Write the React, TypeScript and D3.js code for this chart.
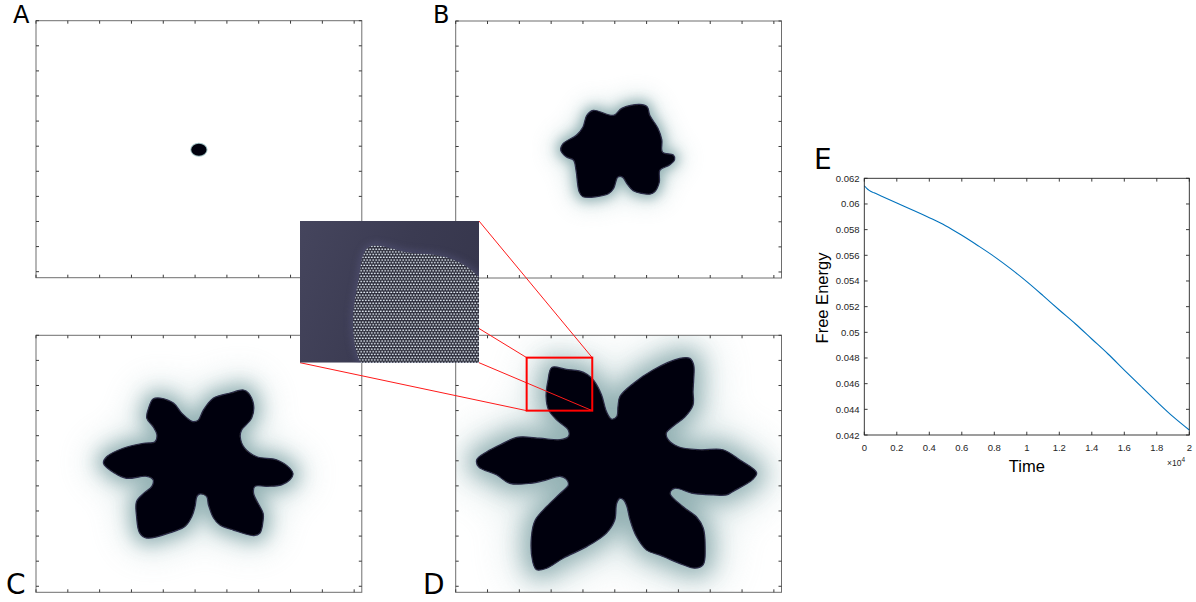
import React from "react";
import * as d3 from "d3";

// ---------- data ----------
const gridTicks = [0, 50, 100, 150, 200, 250, 300, 350, 400, 450, 500];
const gridDomain: [number, number] = [0, 512];

const seedA = { cx: 256, cy: 257, r: 12 };

const shapeB: [number, number][] = [
  [216, 178], [248, 188], [261, 174], [289, 166], [301, 171], [305, 188], [318, 214],
  [324, 237], [325, 261], [342, 267], [344, 276], [336, 287], [321, 297], [320, 321],
  [313, 340], [305, 345], [279, 338], [269, 324], [262, 311], [255, 311], [248, 334],
  [240, 344], [200, 350], [194, 340], [189, 297], [185, 277], [174, 271], [165, 257],
  [169, 244], [190, 227], [200, 211], [206, 188],
];

const shapeC: [number, number][] = [
  [184, 127], [195, 125], [216, 135], [229, 155], [242, 169], [247, 172], [255, 169],
  [263, 149], [279, 125], [305, 115], [326, 109], [334, 115], [342, 139], [339, 165],
  [323, 189], [321, 202], [328, 225], [347, 242], [378, 248], [399, 265], [404, 276],
  [399, 288], [386, 298], [363, 301], [344, 301], [342, 315], [357, 355], [357, 368],
  [352, 394], [342, 399], [310, 388], [289, 378], [279, 364], [271, 338], [268, 321],
  [258, 316], [253, 321], [250, 341], [245, 361], [234, 381], [216, 391], [174, 404],
  [163, 394], [158, 361], [158, 331], [169, 315], [182, 301], [184, 288], [174, 281],
  [142, 285], [124, 275], [106, 255], [111, 242], [137, 225], [169, 215], [187, 212],
  [190, 198], [184, 182], [174, 165], [177, 145],
];

const shapeD: [number, number][] = [
  [151, 64], [174, 68], [194, 71], [207, 78], [217, 90], [229, 118], [237, 152], [245, 167],
  [253, 162], [255, 142], [258, 122], [279, 96], [310, 69], [352, 46], [368, 46],
  [374, 59], [374, 89], [373, 112], [373, 139], [360, 163], [342, 181], [331, 195],
  [334, 208], [350, 222], [384, 228], [420, 228], [446, 248], [473, 274], [467, 287],
  [436, 311], [426, 318], [405, 318], [373, 315], [344, 305], [337, 315], [357, 341],
  [378, 361], [389, 384], [392, 421], [389, 457], [376, 464], [357, 457], [321, 438],
  [300, 428], [284, 401], [274, 368], [269, 341], [264, 328], [258, 325], [253, 335],
  [250, 368], [237, 394], [206, 421], [169, 444], [143, 464], [127, 467], [121, 451],
  [119, 401], [125, 368], [143, 341], [164, 315], [177, 298], [174, 287], [164, 281],
  [143, 288], [117, 295], [85, 295], [64, 278], [36, 262], [33, 248], [49, 232],
  [70, 218], [98, 203], [132, 205], [164, 208], [177, 202], [177, 189], [159, 169],
  [146, 149], [142, 122], [145, 90],
];

const zoomBox = { x0: 111.5, x1: 214.6, y0: 44.5, y1: 150.1 };

const timeValues = [0, 150, 300, 600, 1000, 2000, 3000, 4000, 5000, 6000, 7000, 8000, 9000,
  10000, 11000, 12000, 13000, 14000, 15000, 16000, 17000, 18000, 19000, 20000];
const energyValues = [0.06142, 0.06122, 0.06106, 0.06087, 0.06064, 0.06007, 0.05951, 0.05893,
  0.05831, 0.05756, 0.05675, 0.05590, 0.05496, 0.05395, 0.05286, 0.05174, 0.05065, 0.04948,
  0.04831, 0.04706, 0.04582, 0.04460, 0.04343, 0.04239];
const timeTicks = [0, 2000, 4000, 6000, 8000, 10000, 12000, 14000, 16000, 18000, 20000];
const energyTicks = [0.042, 0.044, 0.046, 0.048, 0.05, 0.052, 0.054, 0.056, 0.058, 0.06, 0.062];

// ---------- layout ----------
const PW = 325.8;
const PH = 257;
const panels = [
  { id: "A", x: 36, y: 20.7, shape: null as [number, number][] | null, halo: 2, blur: 1.5 },
  { id: "B", x: 455.7, y: 21, shape: shapeB, halo: 8, blur: 6 },
  { id: "C", x: 36, y: 335.3, shape: shapeC, halo: 12, blur: 9 },
  { id: "D", x: 455.7, y: 335.3, shape: shapeD, halo: 16, blur: 11 },
];
const inset = { x: 300, y: 221, w: 179, h: 141.7 };

const xP = d3.scaleLinear().domain(gridDomain).range([0, PW]);
const yP = d3.scaleLinear().domain(gridDomain).range([0, PH]);
const shapeLine = d3
  .line<[number, number]>()
  .x((d) => xP(d[0]))
  .y((d) => yP(d[1]))
  .curve(d3.curveCatmullRomClosed.alpha(0.5));

const xI = d3.scaleLinear().domain([zoomBox.x0, zoomBox.x1]).range([0, inset.w]);
const yI = d3.scaleLinear().domain([zoomBox.y0, zoomBox.y1]).range([0, inset.h]);
const insetLine = d3
  .line<[number, number]>()
  .x((d) => xI(d[0]))
  .y((d) => yI(d[1]))
  .curve(d3.curveCatmullRomClosed.alpha(0.5));

const xE = d3.scaleLinear().domain([0, 20000]).range([864.3, 1189.3]);
const yE = d3.scaleLinear().domain([0.042, 0.062]).range([435, 178.3]);
const energyLine = d3
  .line<number>()
  .x((_, i) => xE(timeValues[i]))
  .y((d) => yE(d))
  .curve(d3.curveMonotoneX);

const labelFont = "DejaVu Sans, sans-serif";
const axisFont = "Liberation Sans, Arial, sans-serif";

function Panel({ p }: { p: (typeof panels)[number] }) {
  const clipId = `clip-${p.id}`;
  return (
    <g transform={`translate(${p.x},${p.y})`}>
      <defs>
        <clipPath id={clipId}>
          <rect x={0} y={0} width={PW} height={PH} />
        </clipPath>
      </defs>
      <rect x={0} y={0} width={PW} height={PH} fill="#ffffff" />
      <g clipPath={`url(#${clipId})`}>
        {p.shape ? (
          <>
            <path
              d={shapeLine(p.shape) || ""}
              fill="#b9d0d1"
              stroke="#b9d0d1"
              strokeWidth={p.halo * 2.6}
              strokeLinejoin="round"
              opacity={0.45}
              filter={`url(#blurWide-${p.id})`}
            />
            <path
              d={shapeLine(p.shape) || ""}
              fill="#86a7aa"
              stroke="#86a7aa"
              strokeWidth={p.halo}
              strokeLinejoin="round"
              opacity={0.85}
              filter={`url(#blur-${p.id})`}
            />
            <path
              d={shapeLine(p.shape) || ""}
              fill="#05050c"
              stroke="#2c2c48"
              strokeWidth={1.2}
              filter="url(#edgeBlur)"
            />
          </>
        ) : (
          <>
            <ellipse
              cx={xP(seedA.cx)}
              cy={yP(seedA.cy)}
              rx={xP(seedA.r) - xP(0) + 1}
              ry={yP(seedA.r) - yP(0) + 1}
              fill="#9fc0c4"
              filter="url(#edgeBlur)"
            />
            <ellipse
              cx={xP(seedA.cx)}
              cy={yP(seedA.cy)}
              rx={xP(seedA.r) - xP(0)}
              ry={yP(seedA.r) - yP(0)}
              fill="#05050c"
              filter="url(#edgeBlur)"
            />
          </>
        )}
      </g>
      <rect x={0} y={0} width={PW} height={PH} fill="none" stroke="#6e6e6e" strokeWidth={1} />
      {gridTicks.map((t) => (
        <g key={`xt-${t}`} stroke="#3a3a3a" strokeWidth={1}>
          <line x1={xP(t)} x2={xP(t)} y1={0} y2={3} />
          <line x1={xP(t)} x2={xP(t)} y1={PH} y2={PH - 3} />
        </g>
      ))}
      {gridTicks.map((t) => (
        <g key={`yt-${t}`} stroke="#3a3a3a" strokeWidth={1}>
          <line x1={0} x2={3} y1={yP(t)} y2={yP(t)} />
          <line x1={PW} x2={PW - 3} y1={yP(t)} y2={yP(t)} />
        </g>
      ))}
    </g>
  );
}

export default function App() {
  const D = panels[3];
  const boxL = D.x + xP(zoomBox.x0);
  const boxR = D.x + xP(zoomBox.x1);
  const boxT = D.y + yP(zoomBox.y0);
  const boxB = D.y + yP(zoomBox.y1);

  return (
    <div style={{ position: "absolute", left: 0, top: 0 }}>
      <svg width={1196} height={602} viewBox="0 0 1196 602" style={{ display: "block", background: "#fff" }}>
        <defs>
          {panels.map((p) => (
            <React.Fragment key={p.id}>
              <filter id={`blur-${p.id}`} x="-50%" y="-50%" width="200%" height="200%">
                <feGaussianBlur stdDeviation={p.blur} />
              </filter>
              <filter id={`blurWide-${p.id}`} x="-50%" y="-50%" width="200%" height="200%">
                <feGaussianBlur stdDeviation={p.blur * 1.8} />
              </filter>
            </React.Fragment>
          ))}
          <filter id="edgeBlur" x="-20%" y="-20%" width="140%" height="140%">
            <feGaussianBlur stdDeviation={0.6} />
          </filter>
          <filter id="insetGlow" x="-50%" y="-50%" width="200%" height="200%">
            <feGaussianBlur stdDeviation={3} />
          </filter>
          <linearGradient id="insetBg" x1="0" y1="0" x2="1" y2="0.3">
            <stop offset="0" stopColor="#45455d" />
            <stop offset="0.6" stopColor="#3b3b52" />
            <stop offset="1" stopColor="#37374d" />
          </linearGradient>
          <pattern id="hexDots" patternUnits="userSpaceOnUse" width={3} height={5.4}>
            <rect x={0} y={0} width={3} height={5.4} fill="#20202e" />
            <rect x={0.3} y={0.5} width={1.9} height={1.4} fill="#e2eaf3" />
            <rect x={1.8} y={3.2} width={1.9} height={1.4} fill="#e2eaf3" />
            <rect x={-1.2} y={3.2} width={1.9} height={1.4} fill="#e2eaf3" />
          </pattern>
          <clipPath id="insetClip">
            <rect x={0} y={0} width={inset.w} height={inset.h} />
          </clipPath>
        </defs>

        {panels.map((p) => (
          <Panel key={p.id} p={p} />
        ))}

        {/* zoom connector lines */}
        <g stroke="#ff1a1a" strokeWidth={1}>
          <line x1={inset.x + inset.w} y1={inset.y} x2={boxR} y2={boxT} />
          <line x1={inset.x + inset.w} y1={inset.y + 107.5} x2={boxL} y2={boxT} />
          <line x1={inset.x + inset.w} y1={inset.y + inset.h} x2={boxR} y2={boxB} />
          <line x1={inset.x} y1={inset.y + inset.h} x2={boxL} y2={boxB} />
        </g>

        {/* inset */}
        <g transform={`translate(${inset.x},${inset.y})`}>
          <g clipPath="url(#insetClip)">
            <rect x={0} y={0} width={inset.w} height={inset.h} fill="url(#insetBg)" />
            <path
              d={insetLine(shapeD) || ""}
              fill="#55557a"
              stroke="#55557a"
              strokeWidth={6}
              opacity={0.5}
              filter="url(#insetGlow)"
            />
            <path d={insetLine(shapeD) || ""} fill="url(#hexDots)" filter="url(#edgeBlur)" />
          </g>
        </g>

        {/* zoom box */}
        <rect
          x={boxL}
          y={boxT}
          width={boxR - boxL}
          height={boxB - boxT}
          fill="none"
          stroke="#ff0000"
          strokeWidth={2}
        />

        {/* panel letters */}
        <g fontFamily={labelFont} fill="#000">
          <text x={13} y={22.5} fontSize={24}>A</text>
          <text x={433} y={22.5} fontSize={24}>B</text>
          <text x={6} y={594} fontSize={28}>C</text>
          <text x={423} y={594} fontSize={28}>D</text>
          <text x={814} y={169} fontSize={28}>E</text>
        </g>

        {/* panel E: free energy */}
        <g fontFamily={axisFont} fill="#262626">
          <rect x={864.3} y={178.3} width={325} height={256.7} fill="#fff" />
          <path d={energyLine(energyValues) || ""} fill="none" stroke="#0072bd" strokeWidth={1.1} />
          <rect
            x={864.3}
            y={178.3}
            width={325}
            height={256.7}
            fill="none"
            stroke="#262626"
            strokeWidth={0.9}
          />
          {timeTicks.map((t) => (
            <g key={`et-${t}`}>
              <line x1={xE(t)} x2={xE(t)} y1={435} y2={431.7} stroke="#262626" strokeWidth={0.9} />
              <line x1={xE(t)} x2={xE(t)} y1={178.3} y2={181.6} stroke="#262626" strokeWidth={0.9} />
              <text x={xE(t)} y={451} fontSize={9.5} textAnchor="middle">
                {String(+(t / 10000).toFixed(1))}
              </text>
            </g>
          ))}
          {energyTicks.map((v) => (
            <g key={`ev-${v}`}>
              <line x1={864.3} x2={867.6} y1={yE(v)} y2={yE(v)} stroke="#262626" strokeWidth={0.9} />
              <line x1={1189.3} x2={1186} y1={yE(v)} y2={yE(v)} stroke="#262626" strokeWidth={0.9} />
              <text x={859.5} y={yE(v)} fontSize={9.5} textAnchor="end" dominantBaseline="central">
                {String(+v.toFixed(3))}
              </text>
            </g>
          ))}
          <text x={1167} y={466} fontSize={8.5}>
            ×10<tspan fontSize={6.5} dy={-4}>4</tspan>
          </text>
          <text x={1026.8} y={471.5} fontSize={16.5} textAnchor="middle" fill="#000">
            Time
          </text>
          <text
            transform="translate(828,298) rotate(-90)"
            fontSize={16.5}
            textAnchor="middle"
            fill="#000"
          >
            Free Energy
          </text>
        </g>
      </svg>
    </div>
  );
}
